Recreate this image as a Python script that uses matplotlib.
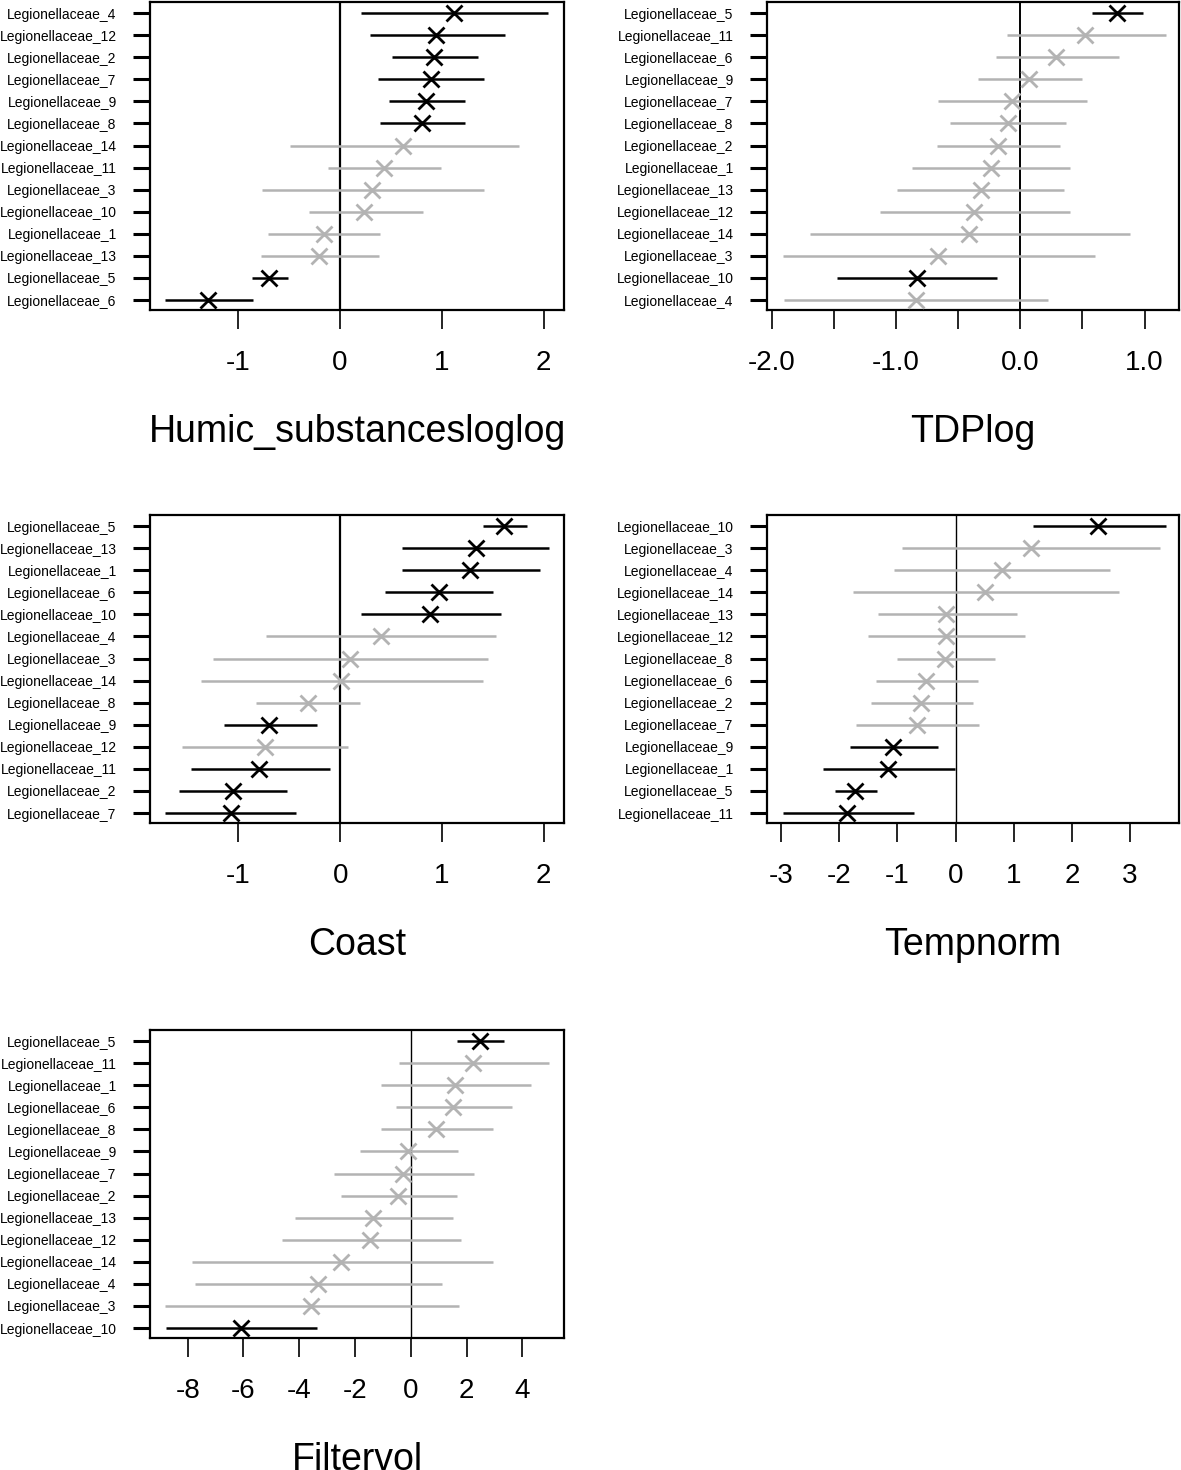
import matplotlib
matplotlib.use("Agg")
import matplotlib.pyplot as plt

plt.rcParams["font.family"] = ["Liberation Sans", "DejaVu Sans"]
plt.rcParams["axes.unicode_minus"] = False

W, H = 1181, 1470
GREY = "#b3b3b3"

# ---- data (rows listed top to bottom) ----
humic_names = ["Legionellaceae_4", "Legionellaceae_12", "Legionellaceae_2", "Legionellaceae_7",
               "Legionellaceae_9", "Legionellaceae_8", "Legionellaceae_14", "Legionellaceae_11",
               "Legionellaceae_3", "Legionellaceae_10", "Legionellaceae_1", "Legionellaceae_13",
               "Legionellaceae_5", "Legionellaceae_6"]
humic_mean = [1.12, 0.94, 0.93, 0.90, 0.85, 0.81, 0.62, 0.43, 0.32, 0.24, -0.15, -0.20, -0.69, -1.29]
humic_lo = [0.21, 0.30, 0.51, 0.38, 0.48, 0.40, -0.49, -0.11, -0.76, -0.30, -0.70, -0.77, -0.86, -1.71]
humic_hi = [2.04, 1.62, 1.36, 1.42, 1.23, 1.23, 1.76, 0.99, 1.42, 0.82, 0.40, 0.39, -0.51, -0.85]

tdp_names = ["Legionellaceae_5", "Legionellaceae_11", "Legionellaceae_6", "Legionellaceae_9",
             "Legionellaceae_7", "Legionellaceae_8", "Legionellaceae_2", "Legionellaceae_1",
             "Legionellaceae_13", "Legionellaceae_12", "Legionellaceae_14", "Legionellaceae_3",
             "Legionellaceae_10", "Legionellaceae_4"]
tdp_mean = [0.775, 0.52, 0.29, 0.07, -0.07, -0.10, -0.18, -0.24, -0.32, -0.37, -0.41, -0.66, -0.83, -0.84]
tdp_lo = [0.58, -0.11, -0.20, -0.34, -0.66, -0.57, -0.67, -0.87, -0.99, -1.13, -1.69, -1.91, -1.48, -1.90]
tdp_hi = [0.985, 1.17, 0.79, 0.50, 0.54, 0.37, 0.32, 0.40, 0.35, 0.40, 0.88, 0.60, -0.19, 0.22]

coast_names = ["Legionellaceae_5", "Legionellaceae_13", "Legionellaceae_1", "Legionellaceae_6",
               "Legionellaceae_10", "Legionellaceae_4", "Legionellaceae_3", "Legionellaceae_14",
               "Legionellaceae_8", "Legionellaceae_9", "Legionellaceae_12", "Legionellaceae_11",
               "Legionellaceae_2", "Legionellaceae_7"]
coast_mean = [1.61, 1.33, 1.28, 0.97, 0.88, 0.40, 0.10, 0.01, -0.32, -0.70, -0.74, -0.80, -1.05, -1.07]
coast_lo = [1.40, 0.61, 0.61, 0.44, 0.20, -0.73, -1.25, -1.37, -0.83, -1.14, -1.56, -1.47, -1.58, -1.72]
coast_hi = [1.84, 2.05, 1.96, 1.50, 1.58, 1.53, 1.45, 1.40, 0.19, -0.23, 0.08, -0.10, -0.52, -0.43]

temp_names = ["Legionellaceae_10", "Legionellaceae_3", "Legionellaceae_4", "Legionellaceae_14",
              "Legionellaceae_13", "Legionellaceae_12", "Legionellaceae_8", "Legionellaceae_6",
              "Legionellaceae_2", "Legionellaceae_7", "Legionellaceae_9", "Legionellaceae_1",
              "Legionellaceae_5", "Legionellaceae_11"]
temp_mean = [2.45, 1.29, 0.79, 0.50, -0.16, -0.17, -0.18, -0.51, -0.59, -0.66, -1.07, -1.16, -1.73, -1.87]
temp_lo = [1.33, -0.92, -1.06, -1.77, -1.33, -1.50, -1.01, -1.36, -1.45, -1.71, -1.81, -2.27, -2.08, -2.97]
temp_hi = [3.61, 3.51, 2.66, 2.81, 1.05, 1.19, 0.68, 0.38, 0.30, 0.40, -0.30, -0.005, -1.35, -0.72]

filt_names = ["Legionellaceae_5", "Legionellaceae_11", "Legionellaceae_1", "Legionellaceae_6",
              "Legionellaceae_8", "Legionellaceae_9", "Legionellaceae_7", "Legionellaceae_2",
              "Legionellaceae_13", "Legionellaceae_12", "Legionellaceae_14", "Legionellaceae_4",
              "Legionellaceae_3", "Legionellaceae_10"]
filt_mean = [2.47, 2.24, 1.58, 1.51, 0.89, -0.09, -0.28, -0.47, -1.36, -1.45, -2.50, -3.34, -3.57, -6.09]
filt_lo = [1.64, -0.43, -1.07, -0.53, -1.07, -1.82, -2.74, -2.51, -4.16, -4.61, -7.86, -7.73, -8.81, -8.77]
filt_hi = [3.35, 4.95, 4.30, 3.62, 2.93, 1.69, 2.28, 1.66, 1.51, 1.78, 2.96, 1.12, 1.73, -3.36]

panels = [
    # (title, names, mean, lo, hi, xlim, ticks, ticklabels, rect px (l, t, r, b), zero lw)
    ("Humic_substancesloglog", humic_names, humic_mean, humic_lo, humic_hi,
     (-1.86, 2.20), [-1, 0, 1, 2], ["-1", "0", "1", "2"], (150, 2, 564, 310), 1.6),
    ("TDPlog", tdp_names, tdp_mean, tdp_lo, tdp_hi,
     (-2.04, 1.277), [-2.0, -1.5, -1.0, -0.5, 0.0, 0.5, 1.0],
     ["-2.0", "", "-1.0", "", "0.0", "", "1.0"], (767, 2, 1179, 310), 1.4),
    ("Coast", coast_names, coast_mean, coast_lo, coast_hi,
     (-1.87, 2.20), [-1, 0, 1, 2], ["-1", "0", "1", "2"], (150, 515, 564, 823), 1.6),
    ("Tempnorm", temp_names, temp_mean, temp_lo, temp_hi,
     (-3.24, 3.84), [-3, -2, -1, 0, 1, 2, 3], ["-3", "-2", "-1", "0", "1", "2", "3"],
     (767, 515, 1179, 823), 1.0),
    ("Filtervol", filt_names, filt_mean, filt_lo, filt_hi,
     (-9.35, 5.49), [-8, -6, -4, -2, 0, 2, 4], ["-8", "-6", "-4", "-2", "0", "2", "4"],
     (150, 1030, 564, 1338), 1.0),
]

fig = plt.figure(figsize=(W / 100, H / 100), dpi=100)

for title, names, mean, lo, hi, xlim, ticks, tlabels, (l, t, r, b), zlw in panels:
    ax = fig.add_axes([l / W, 1 - b / H, (r - l) / W, (b - t) / H])
    n = len(names)
    ys = list(range(n, 0, -1))
    for y, m, a, c in zip(ys, mean, lo, hi):
        col = "black" if (a > 0 or c < 0) else GREY
        ax.plot([a, c], [y, y], color=col, lw=1.8, solid_capstyle="butt", zorder=2)
        ax.plot(m, y, marker="x", color=col, ms=11, mew=2.0, zorder=3)
    ax.axvline(0, color="black", lw=zlw, zorder=1)
    ax.set_xlim(*xlim)
    ax.set_ylim(0.55, n + 0.5)
    ax.set_yticks(ys)
    ax.set_yticklabels(names, fontsize=10)
    ax.set_xticks(ticks)
    ax.set_xticklabels(tlabels, fontsize=20)
    ax.tick_params(axis="y", length=12, width=2.2, pad=12)
    ax.tick_params(axis="x", length=14, width=1.2, pad=15)
    for s in ax.spines.values():
        s.set_linewidth(1.6)
    ax.set_xlabel(title, fontsize=27)
    ax.xaxis.label.set_va("center")
    ax.xaxis.set_label_coords(0.5, -122 / (b - t))

fig.savefig("out.png", dpi=100)
